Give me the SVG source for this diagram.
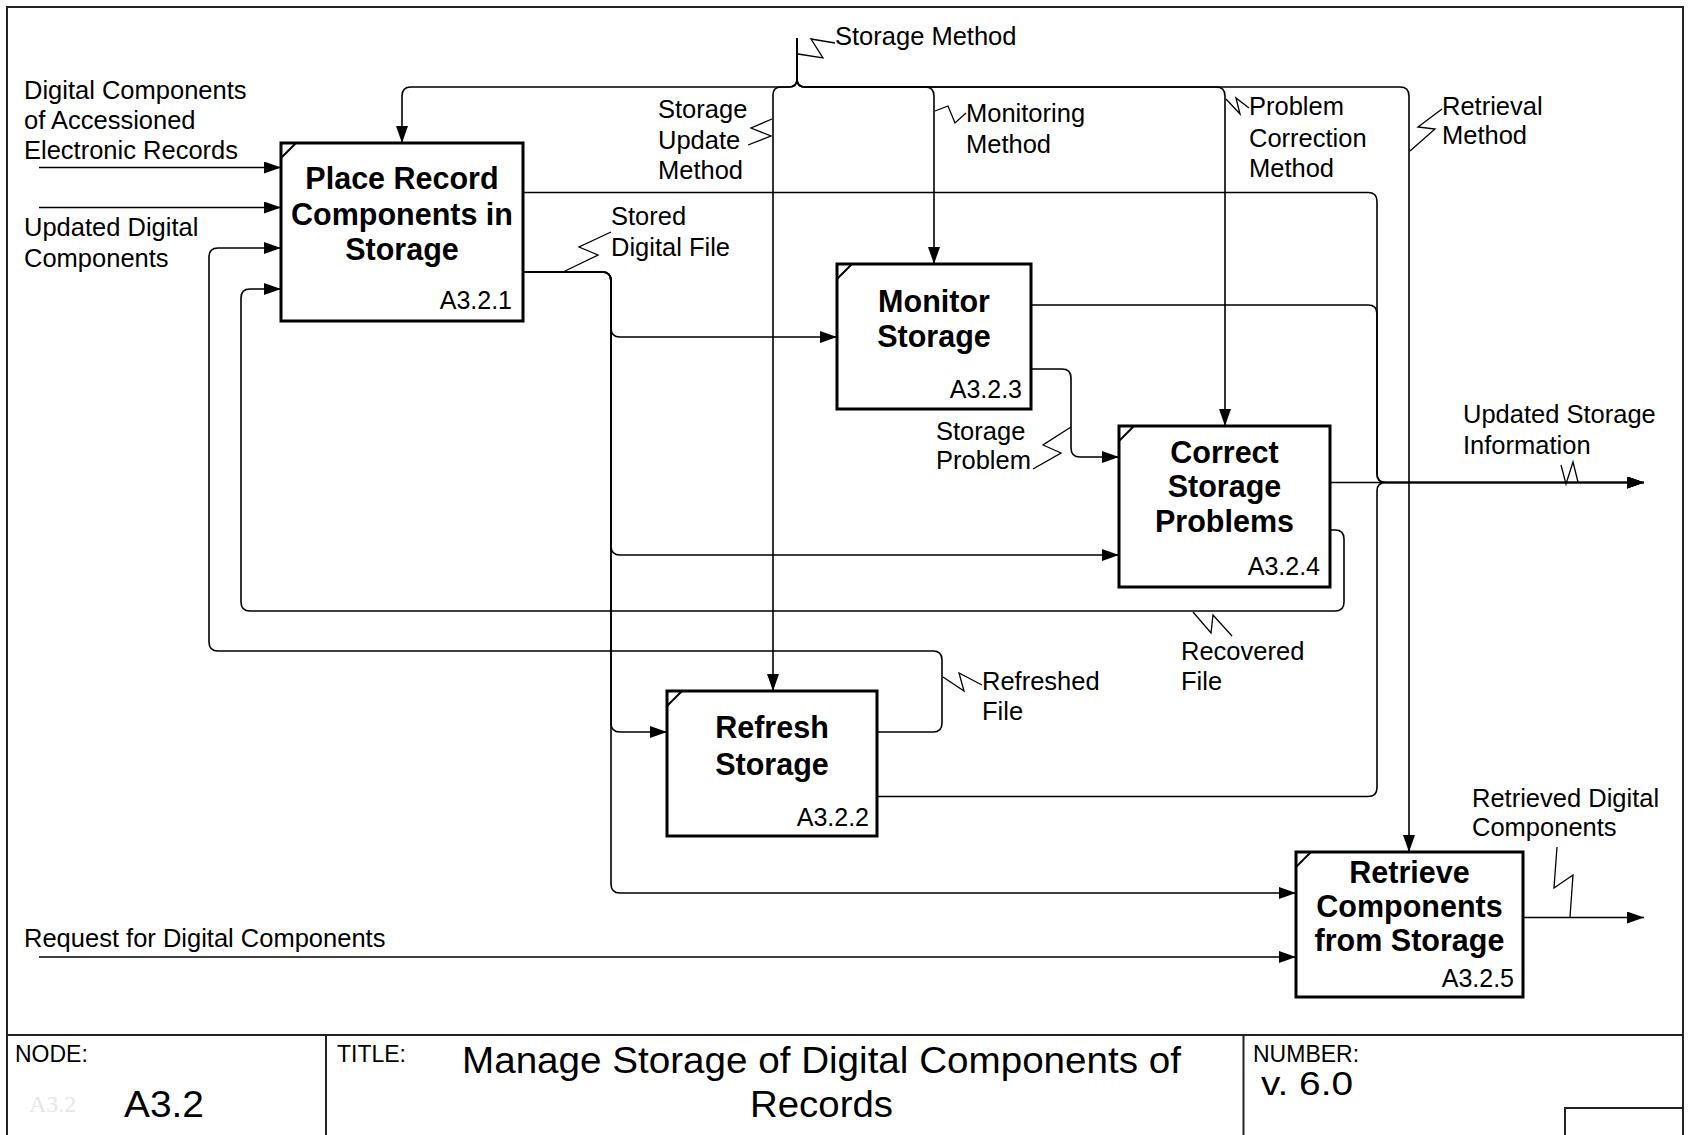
<svg xmlns="http://www.w3.org/2000/svg" width="1693" height="1135" viewBox="0 0 1693 1135">
  <style>
    .frame { fill: none; stroke: #222; stroke-width: 2; }
    .box { fill: #fff; stroke: #000; stroke-width: 3; }
    .tick { stroke: #000; stroke-width: 2; }
    .wire { fill: none; stroke: #000; stroke-width: 1.6; }
    .arrow { marker-end: url(#head); }
    .squig { fill: none; stroke: #000; stroke-width: 1.3; }
    .lbl { font-family: "Liberation Sans", Arial, sans-serif; font-size: 25.5px; fill: #000; }
    .name { font-family: "Liberation Sans", Arial, sans-serif; font-size: 30.5px; font-weight: bold; fill: #000; text-anchor: middle; }
    .num { font-family: "Liberation Sans", Arial, sans-serif; font-size: 25px; fill: #000; text-anchor: end; }
    .hdr { font-family: "Liberation Sans", Arial, sans-serif; font-size: 23px; fill: #000; }
  </style>
  <defs>
    <marker id="head" viewBox="0 0 17 12" refX="17" refY="6" markerWidth="17" markerHeight="12" markerUnits="userSpaceOnUse" orient="auto">
      <path d="M0,0 L17,6 L0,12 z" fill="#000"/>
    </marker>
  </defs>

  <rect width="1693" height="1135" fill="#fff"/>

  <!-- sheet border and title block -->
  <g id="sheet">
    <rect class="frame" x="7" y="7" width="1676" height="1150"/>
    <path class="frame" d="M7,1035 H1683 M326,1035 V1135 M1243.5,1035 V1135 M1565,1135 V1108 H1683"/>
    <text class="hdr" x="15" y="1062">NODE:</text>
    <text x="29" y="1112" font-family="Liberation Serif, serif" font-size="24" fill="#e6e6e6">A3.2</text>
    <text x="124" y="1117" font-family="Liberation Sans, Arial, sans-serif" font-size="37" textLength="80" lengthAdjust="spacingAndGlyphs">A3.2</text>
    <text class="hdr" x="337" y="1062" font-size="24">TITLE:</text>
    <text x="462" y="1073" font-family="Liberation Sans, Arial, sans-serif" font-size="36" textLength="719" lengthAdjust="spacingAndGlyphs">Manage Storage of Digital Components of</text>
    <text x="750" y="1117" font-family="Liberation Sans, Arial, sans-serif" font-size="36" textLength="143" lengthAdjust="spacingAndGlyphs">Records</text>
    <text class="hdr" x="1253" y="1062" font-size="25">NUMBER:</text>
    <text x="1261" y="1095" font-family="Liberation Sans, Arial, sans-serif" font-size="33" textLength="92" lengthAdjust="spacingAndGlyphs">v. 6.0</text>
  </g>

  <!-- arrows between activities -->
  <g id="connectors">
    <!-- inputs -->
    <path class="wire arrow" d="M39,167.5 H281"/>
    <path class="wire arrow" d="M39,207.5 H281"/>
    <path class="wire arrow" d="M39,957 H1296"/>
    <!-- Refreshed File feedback -->
    <path class="wire arrow" d="M877,732 H933 Q942,732 942,723 V660 Q942,651 933,651 H218 Q209,651 209,642 V257 Q209,248 218,248 H281"/>
    <!-- Recovered File feedback -->
    <path class="wire arrow" d="M1330,530 H1335 Q1344,530 1344,539 V602 Q1344,611 1335,611 H250 Q241,611 241,602 V298 Q241,289 250,289 H281"/>
    <!-- Stored Digital File branches -->
    <path class="wire arrow" d="M523,272 H602 Q611,272 611,281 V328 Q611,337 620,337 H837"/>
    <path class="wire arrow" d="M523,272 H602 Q611,272 611,281 V546 Q611,555 620,555 H1119"/>
    <path class="wire arrow" d="M523,272 H602 Q611,272 611,281 V723 Q611,732 620,732 H667"/>
    <path class="wire arrow" d="M523,272 H602 Q611,272 611,281 V884 Q611,893 620,893 H1296"/>
    <!-- Storage Method controls -->
    <path class="wire arrow" d="M797,38 V79 Q797,87 789,87 H411 Q402,87 402,96 V143"/>
    <path class="wire arrow" d="M797,38 V79 Q797,87 789,87 H781 Q773,87 773,95 V691"/>
    <path class="wire arrow" d="M797,38 V79 Q797,87 805,87 H925 Q934,87 934,96 V264"/>
    <path class="wire arrow" d="M797,38 V79 Q797,87 805,87 H1216 Q1225,87 1225,96 V426"/>
    <path class="wire arrow" d="M797,38 V79 Q797,87 805,87 H1400 Q1409,87 1409,96 V852"/>
    <!-- Updated Storage Information outputs -->
    <path class="wire arrow" d="M1330,482.5 H1644"/>
    <path class="wire arrow" d="M523,192.5 H1368 Q1377,192.5 1377,201.5 V474 Q1377,482.5 1386,482.5 H1644"/>
    <path class="wire arrow" d="M1031,305 H1368 Q1377,305 1377,314 V474 Q1377,482.5 1386,482.5 H1644"/>
    <path class="wire arrow" d="M877,796.5 H1368 Q1377,796.5 1377,787.5 V491 Q1377,482.5 1386,482.5 H1644"/>
    <!-- Storage Problem -->
    <path class="wire arrow" d="M1031,369 H1062 Q1071,369 1071,378 V448 Q1071,457 1080,457 H1119"/>
    <!-- Retrieved Digital Components -->
    <path class="wire arrow" d="M1523,917.5 H1644"/>

    <!-- label leaders -->
    <polyline class="squig" points="798,54 823,58 811,39 835,43"/>
    <polyline class="squig" points="772,119 751,128 771,136 748,145"/>
    <polyline class="squig" points="935,111 948,106 955,123 966,113"/>
    <polyline class="squig" points="1226,99 1240,114 1236,98 1249,108"/>
    <polyline class="squig" points="1410,151 1435,129 1418,127 1442,109"/>
    <polyline class="squig" points="611,232 579,247 598,255 563,272"/>
    <polyline class="squig" points="1071,427 1043,445 1061,453 1033,469"/>
    <polyline class="squig" points="1193,612 1211,633 1213,615 1232,636"/>
    <polyline class="squig" points="943,677 964,691 959,673 982,685"/>
    <polyline class="squig" points="1561,465 1566,484 1573,462 1578,482"/>
    <polyline class="squig" points="1557,847 1554,888 1573,875 1570,917"/>
  </g>

  <!-- arrow labels -->
  <g id="labels">
    <text class="lbl" x="24" y="99">Digital Components</text>
    <text class="lbl" x="24" y="129">of Accessioned</text>
    <text class="lbl" x="24" y="159">Electronic Records</text>
    <text class="lbl" x="24" y="236">Updated Digital</text>
    <text class="lbl" x="24" y="267">Components</text>
    <text class="lbl" x="24" y="947">Request for Digital Components</text>
    <text class="lbl" x="835" y="45">Storage Method</text>
    <text class="lbl" x="658" y="118">Storage</text>
    <text class="lbl" x="658" y="149">Update</text>
    <text class="lbl" x="658" y="179">Method</text>
    <text class="lbl" x="966" y="122">Monitoring</text>
    <text class="lbl" x="966" y="153">Method</text>
    <text class="lbl" x="1249" y="115">Problem</text>
    <text class="lbl" x="1249" y="147">Correction</text>
    <text class="lbl" x="1249" y="177">Method</text>
    <text class="lbl" x="1442" y="115">Retrieval</text>
    <text class="lbl" x="1442" y="144">Method</text>
    <text class="lbl" x="611" y="225">Stored</text>
    <text class="lbl" x="611" y="256">Digital File</text>
    <text class="lbl" x="936" y="440">Storage</text>
    <text class="lbl" x="936" y="469">Problem</text>
    <text class="lbl" x="982" y="690">Refreshed</text>
    <text class="lbl" x="982" y="720">File</text>
    <text class="lbl" x="1181" y="660">Recovered</text>
    <text class="lbl" x="1181" y="690">File</text>
    <text class="lbl" x="1463" y="423">Updated Storage</text>
    <text class="lbl" x="1463" y="454">Information</text>
    <text class="lbl" x="1472" y="807">Retrieved Digital</text>
    <text class="lbl" x="1472" y="836">Components</text>
  </g>

  <!-- activities -->
  <g id="A3.2.1">
    <rect class="box" x="281" y="143" width="242" height="178"/>
    <line class="tick" x1="281" y1="158" x2="296" y2="143"/>
    <text class="name" x="402" y="189">Place Record</text>
    <text class="name" x="402" y="225">Components in</text>
    <text class="name" x="402" y="260">Storage</text>
    <text class="num" x="512" y="309">A3.2.1</text>
  </g>
  <g id="A3.2.2">
    <rect class="box" x="667" y="691" width="210" height="145"/>
    <line class="tick" x1="667" y1="706" x2="682" y2="691"/>
    <text class="name" x="772" y="738">Refresh</text>
    <text class="name" x="772" y="775">Storage</text>
    <text class="num" x="869" y="826">A3.2.2</text>
  </g>
  <g id="A3.2.3">
    <rect class="box" x="837" y="264" width="194" height="145"/>
    <line class="tick" x1="837" y1="279" x2="852" y2="264"/>
    <text class="name" x="934" y="312">Monitor</text>
    <text class="name" x="934" y="347">Storage</text>
    <text class="num" x="1022" y="398">A3.2.3</text>
  </g>
  <g id="A3.2.4">
    <rect class="box" x="1119" y="426" width="211" height="161"/>
    <line class="tick" x1="1119" y1="441" x2="1134" y2="426"/>
    <text class="name" x="1224.5" y="463">Correct</text>
    <text class="name" x="1224.5" y="497">Storage</text>
    <text class="name" x="1224.5" y="532">Problems</text>
    <text class="num" x="1320" y="575">A3.2.4</text>
  </g>
  <g id="A3.2.5">
    <rect class="box" x="1296" y="852" width="227" height="145"/>
    <line class="tick" x1="1296" y1="867" x2="1311" y2="852"/>
    <text class="name" x="1409.5" y="883">Retrieve</text>
    <text class="name" x="1409.5" y="917">Components</text>
    <text class="name" x="1409.5" y="951">from Storage</text>
    <text class="num" x="1514" y="987">A3.2.5</text>
  </g>
</svg>
